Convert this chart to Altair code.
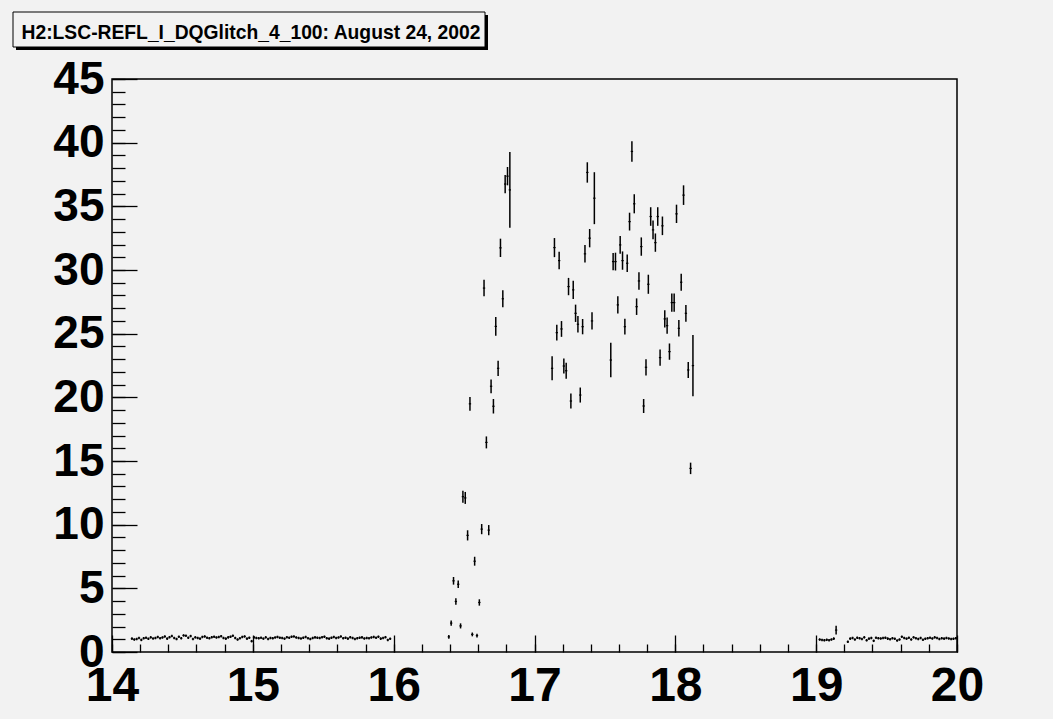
import altair as alt
import pandas as pd

title_text = "H2:LSC-REFL_I_DQGlitch_4_100: August 24, 2002"

x_major_ticks = [14, 15, 16, 17, 18, 19, 20]
x_minor_ticks = [round(14 + 0.2 * k, 1) for k in range(31)]
y_major_ticks = [0, 5, 10, 15, 20, 25, 30, 35, 40, 45]
y_minor_ticks = list(range(0, 46))

# Histogram segments: first 1-minute bin (minutes after 14:00), contents, errors
low1_start = 8
low1_vals = [
    1.05, 0.98, 1.02, 1.10, 0.95, 1.08, 1.12, 1.04, 1.15, 1.06,
    1.10, 1.18, 1.08, 1.14, 1.22, 1.05, 1.16, 1.25, 1.10, 1.02,
    1.20, 1.08, 1.30, 1.28, 1.12, 1.25, 1.02, 1.15, 1.10, 1.05,
    1.18, 1.22, 1.12, 1.08, 1.16, 1.20, 1.14, 1.18, 1.24, 1.10,
    1.05, 1.15, 1.20, 1.28, 1.10, 0.98, 1.08, 1.18, 1.22, 1.05,
    1.12, 0.85, 1.15, 1.10, 1.08, 1.12, 1.05, 1.15, 1.02, 1.10,
    1.08, 1.14, 1.18, 1.12, 1.10, 1.05, 1.16, 1.12, 1.20, 1.22,
    1.14, 1.10, 1.06, 1.12, 1.18, 1.08, 1.02, 1.10, 1.15, 1.12,
    1.10, 1.16, 1.20, 1.08, 1.05, 1.12, 1.18, 1.10, 1.14, 1.22,
    1.08, 1.12, 1.05, 1.16, 1.10, 1.02, 1.08, 1.12, 1.15, 1.06,
    1.10, 1.08, 1.14, 1.18, 1.12, 1.20, 1.05, 1.10, 1.16, 0.95, 1.04,
]
low1_errs = [0.1] * len(low1_vals)

ramp_start = 143
ramp_vals = [
    1.19, 2.27, 5.59, 3.97, 5.32, 2.05, 12.2, 12.1, 9.16, 19.49,
    1.38, 7.13, 1.29, 3.89, 9.65, 28.58, 16.46, 9.57, 20.87, 19.3,
    25.57, 22.28, 31.74, 27.74, 36.75, 37.37, 36.29,
]
ramp_errs = [
    0.15, 0.2, 0.3, 0.25, 0.3, 0.2, 0.47, 0.47, 0.4, 0.54,
    0.15, 0.35, 0.15, 0.25, 0.4, 0.65, 0.47, 0.4, 0.54, 0.57,
    0.74, 0.6, 0.72, 0.66, 0.72, 0.72, 2.98,
]

clusterA_start = 187
clusterA_vals = [
    22.28, 31.76, 25.08, 30.74, 25.37, 22.46, 22.09, 28.7, 19.71, 28.44,
    26.6, 25.74, 20.18, 25.55, 31.27, 37.66, 32.5, 26.0, 35.64,
]
clusterA_errs = [
    0.94, 0.75, 0.62, 0.69, 0.62, 0.58, 0.63, 0.68, 0.59, 0.71,
    0.68, 0.65, 0.59, 0.6, 0.69, 0.8, 0.72, 0.68, 2.04,
]

clusterB_start = 212
clusterB_vals = [
    22.93, 30.66, 30.66, 27.26, 31.97, 30.74, 25.55, 30.53, 33.8, 39.31,
    35.2, 27.12, 29.14, 31.84, 19.32, 22.36, 28.88, 34.2, 33.15, 32.15,
    34.2, 23.12, 33.47, 26.16, 25.63, 23.59, 27.44, 27.44, 34.41, 25.42,
    29.04, 35.88, 26.6, 22.15, 14.42, 22.49,
]
clusterB_errs = [
    1.36, 0.68, 0.7, 0.68, 0.7, 0.72, 0.62, 0.68, 0.7, 0.8,
    0.75, 0.65, 0.69, 0.72, 0.55, 0.64, 0.75, 0.73, 0.73, 0.72,
    0.73, 0.63, 0.73, 0.68, 0.63, 0.64, 0.72, 0.72, 0.72, 0.65,
    0.66, 0.77, 0.66, 0.63, 0.45, 2.4,
]

low2_start = 301
low2_vals = [0.98, 0.95, 0.92, 0.96, 0.93, 0.98, 1.05, 1.72]
low2_errs = [0.1, 0.1, 0.1, 0.1, 0.1, 0.1, 0.1, 0.35]

low3_start = 313
low3_vals = [
    0.80, 1.05, 1.10, 0.98, 1.12, 1.08, 1.02, 1.15, 0.92, 1.05,
    1.10, 0.88, 1.12, 1.08, 1.06, 1.10, 1.12, 1.05, 1.00, 1.08,
    1.04, 0.90, 0.98, 1.20, 1.10, 1.05, 1.12, 0.98, 1.15, 1.08,
    1.02, 1.10, 0.96, 1.04, 1.08, 1.12, 1.06, 1.15, 1.10, 1.02,
    1.08, 1.05, 1.10, 1.06, 1.02, 1.04, 1.08,
]
low3_errs = [0.1] * len(low3_vals)

segments = [
    (low1_start, low1_vals, low1_errs),
    (ramp_start, ramp_vals, ramp_errs),
    (clusterA_start, clusterA_vals, clusterA_errs),
    (clusterB_start, clusterB_vals, clusterB_errs),
    (low2_start, low2_vals, low2_errs),
    (low3_start, low3_vals, low3_errs),
]

rows = []
for start, vals, errs in segments:
    for i, (v, e) in enumerate(zip(vals, errs)):
        m = start + i
        rows.append({
            "x": 14 + (m + 0.5) / 60.0,
            "x0": 14 + m / 60.0,
            "x1": 14 + (m + 1) / 60.0,
            "y": v,
            "lo": v - e,
            "hi": v + e,
        })
df = pd.DataFrame(rows)

FONT = "Liberation Sans"
BG = "#f2f2f2"

xs = alt.Scale(domain=[14, 20], nice=False, zero=False)
ys = alt.Scale(domain=[0, 45], nice=False, zero=False)

common = dict(domain=False, grid=False, title=None, tickColor="black",
              tickWidth=1.3, labelFlush=False, labelOverlap=False)

ax_x_major = alt.Axis(values=x_major_ticks, orient="bottom", offset=-17, tickSize=17,
                      labelFont=FONT, labelFontWeight="bold", labelFontSize=48,
                      labelColor="black", labelPadding=10, format="d", **common)
ax_x_minor = alt.Axis(values=x_minor_ticks, orient="bottom", offset=-8, tickSize=8,
                      labels=False, **common)
ax_y_major = alt.Axis(values=y_major_ticks, orient="left", offset=-25, tickSize=25,
                      labelFont=FONT, labelFontWeight="bold", labelFontSize=46,
                      labelColor="black", labelPadding=8, format="d", **common)
ax_y_minor = alt.Axis(values=y_minor_ticks, orient="left", offset=-13, tickSize=13,
                      labels=False, **common)

base = alt.Chart(df)

err_bars = base.mark_rule(color="black", strokeWidth=1.5).encode(
    x=alt.X("x:Q", scale=xs, axis=ax_x_major),
    y=alt.Y("lo:Q", scale=ys, axis=ax_y_major),
    y2="hi:Q",
)

bin_bars = base.mark_rule(color="black", strokeWidth=1.2).encode(
    x=alt.X("x0:Q", scale=xs, axis=ax_x_minor),
    x2="x1:Q",
    y=alt.Y("y:Q", scale=ys, axis=ax_y_minor),
)

tdf = pd.DataFrame({"t": [title_text]})
PL, PT = 112, 79
shadow = alt.Chart(tdf).mark_rect(color="black").encode(
    x=alt.value(16 - PL), x2=alt.value(488 - PL),
    y=alt.value(15 - PT), y2=alt.value(50 - PT),
)
box = alt.Chart(tdf).mark_rect(fill=BG, stroke="black", strokeWidth=1).encode(
    x=alt.value(13 - PL), x2=alt.value(485 - PL),
    y=alt.value(12 - PT), y2=alt.value(47 - PT),
)
title = alt.Chart(tdf).mark_text(
    font=FONT, fontWeight="bold", fontSize=19.3, align="left",
    baseline="alphabetic", color="black",
).encode(
    x=alt.value(21.5 - PL), y=alt.value(39.3 - PT), text="t:N",
)

chart = alt.layer(err_bars, bin_bars, shadow, box, title).resolve_axis(
    x="independent", y="independent"
).properties(
    width=845, height=573, autosize="none",
    padding={"left": PL, "top": PT, "right": 96, "bottom": 67},
    background=BG,
).configure_view(stroke="black", strokeWidth=1.5, fill=BG)

chart.save("out.html", embed_options={"renderer": "svg", "actions": False})
